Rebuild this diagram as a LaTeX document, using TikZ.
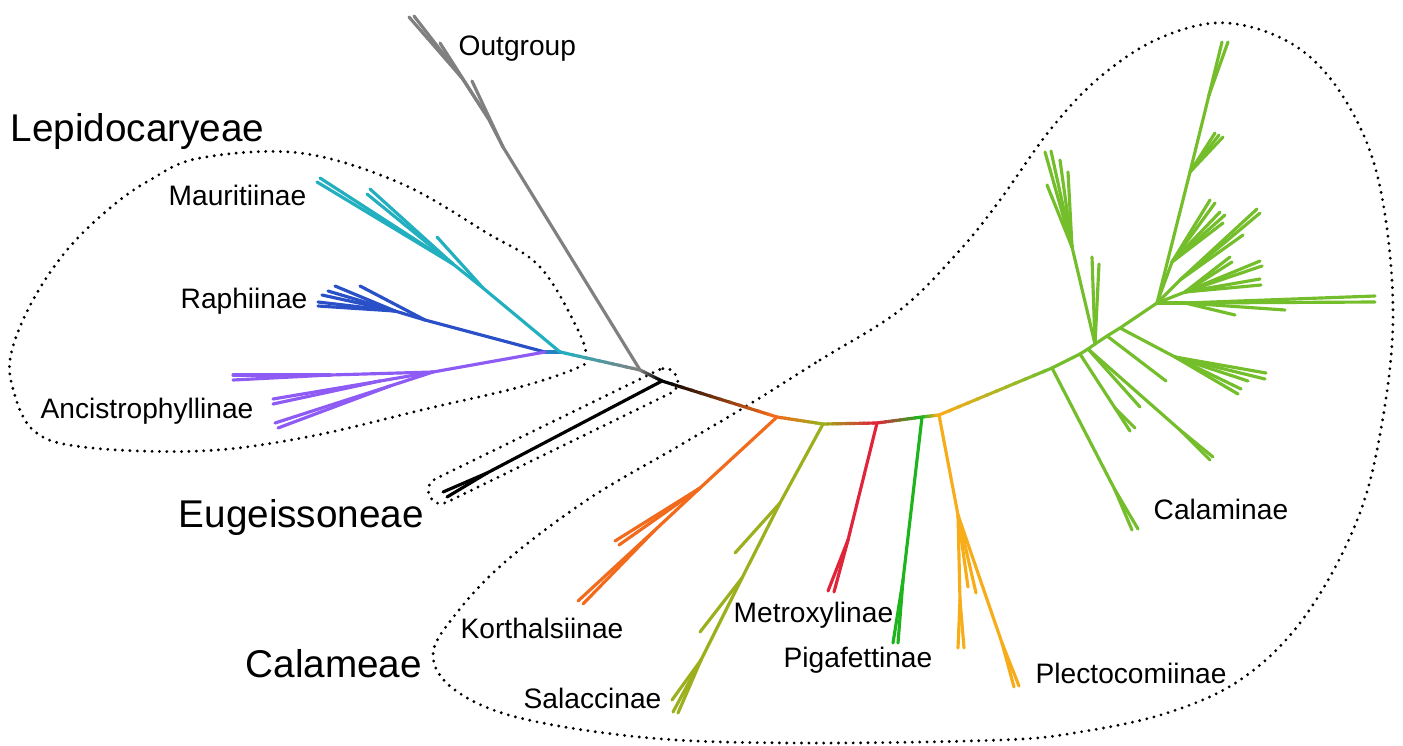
\documentclass[tikz,border=0pt]{standalone}
\usepackage{fontspec}
\setmainfont{Liberation Sans}
\usetikzlibrary{calc}

\definecolor{outgray}{HTML}{808080}
\definecolor{mauricyan}{HTML}{22AFBF}
\definecolor{raphblue}{HTML}{2A50C8}
\definecolor{ancipurple}{HTML}{8E5CF4}
\definecolor{korthorange}{HTML}{F26A1B}
\definecolor{salaolive}{HTML}{9CAF1C}
\definecolor{metrored}{HTML}{E0243A}
\definecolor{pigagreen}{HTML}{1EB41E}
\definecolor{plectoyellow}{HTML}{F7AC1A}
\definecolor{calagreen}{HTML}{74BE2B}

\tikzset{
  branch/.style={line width=0.9pt, line cap=round, line join=round},
  grouploop/.style={line width=0.9pt, dash pattern=on 0pt off 2.1pt, line cap=round},
  sublabel/.style={font=\fontsize{8}{9.6}\selectfont, inner sep=0pt, anchor=base west},
  tribelabel/.style={font=\fontsize{11}{13}\selectfont, inner sep=0pt, anchor=base west},
}

% branch whose colour runs from #3 to #4
\newcommand{\gradbranch}[4]{%
  \foreach \k in {0,...,11}{%
    \pgfmathsetmacro{\ta}{\k/12}%
    \pgfmathsetmacro{\tb}{min((\k+1)/12+0.02,1)}%
    \pgfmathtruncatemacro{\pc}{100-100*\k/11}%
    \draw[branch, color={#3!\pc!#4}] ($(#1)!\ta!(#2)$) -- ($(#1)!\tb!(#2)$);
  }}

\begin{document}
\begin{tikzpicture}[x=0.01cm, y=-0.01cm]
\useasboundingbox (0,0) rectangle (1403,745);

% group outlines
\draw[grouploop] plot[smooth cycle, tension=0.6] coordinates {
  (586,358) (578,330) (540,267) (487,233) (400,183) (300,153) (200,158)
  (150,180) (110,208) (67,250) (33,300) (12,350) (12,385) (33,430)
  (83,447) (200,451) (307,437) (430,408) (520,387) (577,368)};
\node[grouploop, draw, rectangle, rounded corners=0.12cm, minimum width=2.74cm,
  minimum height=0.26cm, rotate=26] (eugloop) at (553,436) {};
\draw[grouploop] plot[smooth cycle, tension=0.6] coordinates {
  (745,407) (820,360) (900,310) (960,250) (1000,200) (1050,130) (1100,77)
  (1160,38) (1227,23) (1297,47) (1347,103) (1380,187) (1393,320)
  (1377,450) (1350,537) (1300,623) (1240,680) (1167,713) (1080,732)
  (1000,740) (800,743) (650,738) (520,718) (455,690) (433,655)
  (455,615) (505,562) (587,500) (677,447)};

% backbone
\coordinate (root) at (640,370);
\coordinate (lepi) at (560,352);
\coordinate (lepj) at (545,352);
\coordinate (eug) at (662,381);
\coordinate (kor) at (777,417);
\coordinate (sal) at (823,424);
\coordinate (met) at (877,423);
\coordinate (pig) at (922,417);
\coordinate (ple) at (939,415);
\coordinate (cal1) at (1052,368);
\coordinate (cal2) at (1080,354);
\coordinate (cal3) at (1088,349);
\coordinate (cal4) at (1095,344);
\coordinate (cal5) at (1107,336);
\coordinate (cal6) at (1120,328);
\coordinate (cal7) at (1157,303);

\gradbranch{root}{lepi}{outgray}{mauricyan}
\draw[branch, raphblue!50!mauricyan] (lepi) -- (lepj);
\gradbranch{root}{eug}{outgray}{black}
\gradbranch{eug}{kor}{black}{korthorange}
\gradbranch{kor}{sal}{korthorange}{salaolive}
\gradbranch{sal}{met}{salaolive}{metrored}
\gradbranch{met}{pig}{metrored}{pigagreen}
\gradbranch{pig}{ple}{pigagreen}{plectoyellow}
\gradbranch{ple}{cal1}{plectoyellow}{calagreen}
\draw[branch, calagreen] (cal1) -- (cal2) -- (cal3) -- (cal4) -- (cal5) -- (cal6) -- (cal7);

% Outgroup
\coordinate (og1) at (503,147);
\coordinate (og2) at (488,118);
\coordinate (og3) at (462,78);
\coordinate (ogt1) at (472,81);
\coordinate (ogt2) at (440,43);
\coordinate (ogt3) at (409,17);
\coordinate (ogt4) at (414,16);
\draw[branch, outgray] (root) -- (og1) -- (og2) -- (og3);
\draw[branch, outgray] (og1) -- (ogt1);
\draw[branch, outgray] (og2) -- (ogt2);
\draw[branch, outgray] (og3) -- (ogt3);
\draw[branch, outgray] (og3) -- (ogt4);

% Mauritiinae
\coordinate (cy1) at (483,288);
\coordinate (cy2) at (453,264);
\coordinate (cyt0) at (437,237);
\draw[branch, mauricyan] (lepi) -- (cy1) -- (cy2);
\draw[branch, mauricyan] (cy1) -- (cyt0);
\foreach \n/\x/\y in {1/370/189, 2/367/194, 3/317/182, 4/320/178}{
  \coordinate (cyt\n) at (\x,\y);
  \draw[branch, mauricyan] (cy2) -- (cyt\n);
}

% Raphiinae
\coordinate (bl1) at (425,320);
\coordinate (bl2) at (395,311);
\coordinate (blt0) at (360,286);
\draw[branch, raphblue] (lepj) -- (bl1) -- (bl2);
\draw[branch, raphblue] (bl1) -- (blt0);
\foreach \n/\x/\y in {1/335/286, 2/328/291, 3/322/295, 4/318/302, 5/318/306}{
  \coordinate (blt\n) at (\x,\y);
  \draw[branch, raphblue] (bl2) -- (blt\n);
}

% Ancistrophyllinae
\coordinate (pu1) at (433,372);
\coordinate (pu2) at (330,375);
\coordinate (pu3) at (380,381);
\coordinate (pu4) at (390,386);
\draw[branch, ancipurple] (lepj) -- (pu1);
\draw[branch, ancipurple] (pu1) -- (pu2);
\draw[branch, ancipurple] (pu1) -- (pu3);
\draw[branch, ancipurple] (pu1) -- (pu4);
\foreach \n/\s/\x/\y in {1/pu2/233/375, 2/pu2/233/380, 3/pu3/273/399,
                         4/pu3/273/404, 5/pu4/275/423, 6/pu4/278/428}{
  \coordinate (put\n) at (\x,\y);
  \draw[branch, ancipurple] (\s) -- (put\n);
}

% Eugeissoneae
\coordinate (eu1) at (487,473);
\coordinate (eut1) at (443,492);
\coordinate (eut2) at (447,497);
\draw[branch, black] (eug) -- (eu1) -- (eut1);
\draw[branch, black] (eu1) -- (eut2);

% Korthalsiinae
\coordinate (ko1) at (700,488);
\coordinate (ko2) at (655,530);
\draw[branch, korthorange] (kor) -- (ko1) -- (ko2);
\foreach \n/\s/\x/\y in {1/ko1/615/541, 2/ko1/619/545, 3/ko2/578/601, 4/ko2/583/604}{
  \coordinate (kot\n) at (\x,\y);
  \draw[branch, korthorange] (\s) -- (kot\n);
}

% Salaccinae
\coordinate (sa1) at (780,503);
\coordinate (sa2) at (742,578);
\coordinate (sa3) at (701,660);
\draw[branch, salaolive] (sal) -- (sa1) -- (sa2) -- (sa3);
\foreach \n/\s/\x/\y in {1/sa1/735/553, 2/sa2/700/632, 3/sa3/672/700,
                         4/sa3/673/712, 5/sa3/678/713}{
  \coordinate (sat\n) at (\x,\y);
  \draw[branch, salaolive] (\s) -- (sat\n);
}

% Metroxylinae
\coordinate (me1) at (848,540);
\draw[branch, metrored] (met) -- (me1);
\foreach \n/\x/\y in {1/828/591, 2/834/592}{
  \coordinate (met\n) at (\x,\y);
  \draw[branch, metrored] (me1) -- (met\n);
}

% Pigafettinae
\coordinate (pi1) at (903,580);
\draw[branch, pigagreen] (pig) -- (pi1);
\foreach \n/\x/\y in {1/893/643, 2/898/643}{
  \coordinate (pit\n) at (\x,\y);
  \draw[branch, pigagreen] (pi1) -- (pit\n);
}

% Plectocomiinae
\coordinate (pl1) at (958,515);
\coordinate (pl2) at (960,600);
\coordinate (pl3) at (1002,643);
\draw[branch, plectoyellow] (ple) -- (pl1) -- (pl2);
\draw[branch, plectoyellow] (pl1) -- (pl3);
\foreach \n/\s/\x/\y in {1/pl2/958/648, 2/pl2/964/648, 3/pl1/968/587,
                         4/pl1/976/593, 5/pl3/1014/687, 6/pl3/1019/686}{
  \coordinate (plt\n) at (\x,\y);
  \draw[branch, plectoyellow] (\s) -- (plt\n);
}

% Calaminae
\coordinate (ca1) at (1115,490);
\coordinate (ca2) at (1115,408);
\coordinate (ca3) at (1180,430);
\coordinate (ca4) at (1072,247);
\coordinate (ca6) at (1175,357);
\coordinate (ca7a) at (1190,172);
\coordinate (ca7b) at (1209,95);
\coordinate (ca7c) at (1172,262);
\coordinate (ca7d) at (1180,280);
\coordinate (ca7e) at (1185,292);
\coordinate (ca7f) at (1185,303);
\draw[branch, calagreen] (cal1) -- (ca1);
\draw[branch, calagreen] (cal2) -- (ca2);
\draw[branch, calagreen] (cal3) -- (ca3);
\draw[branch, calagreen] (cal4) -- (ca4);
\draw[branch, calagreen] (cal6) -- (ca6);
\draw[branch, calagreen] (cal7) -- (ca7a) -- (ca7b);
\draw[branch, calagreen] (cal7) -- (ca7c);
\draw[branch, calagreen] (cal7) -- (ca7d);
\draw[branch, calagreen] (cal7) -- (ca7e);
\draw[branch, calagreen] (cal7) -- (ca7f);
\foreach \n/\s/\x/\y in {
    1/ca1/1132/530, 2/ca1/1138/529,
    3/ca2/1130/431, 4/ca2/1135/428,
    5/cal3/1140/407, 6/ca3/1213/457, 7/ca3/1210/460,
    8/cal5/1166/381,
    9/ca6/1266/373, 10/ca6/1265/379, 11/ca6/1248/381, 12/ca6/1241/389, 13/ca6/1238/394,
    14/ca4/1045/152, 15/ca4/1051/151, 16/ca4/1060/160, 17/ca4/1068/172, 18/ca4/1047/185,
    19/cal4/1092/257, 20/cal4/1099/264,
    21/ca7a/1215/133, 22/ca7a/1219/135, 23/ca7a/1223/137,
    24/ca7b/1222/42, 25/ca7b/1228/42,
    26/ca7c/1210/200, 27/ca7c/1215/203, 28/ca7c/1220/212, 29/ca7c/1225/215, 30/ca7c/1223/223,
    31/ca7d/1257/209, 32/ca7d/1260/213, 33/ca7d/1243/235,
    34/ca7e/1230/257, 35/ca7e/1232/262, 36/ca7e/1260/261, 37/ca7e/1262/266,
    38/ca7e/1260/279, 39/ca7e/1261/285,
    40/ca7f/1375/296, 41/ca7f/1375/302, 42/ca7f/1285/310, 43/ca7f/1235/315}{
  \coordinate (cat\n) at (\x,\y);
  \draw[branch, calagreen] (\s) -- (cat\n);
}

% labels
\node[sublabel] (outgroup) at (458,55) {Outgroup};
\node[tribelabel] (lepido) at (10,141) {Lepidocaryeae};
\node[sublabel] (mauri) at (168,205) {Mauritiinae};
\node[sublabel] (raphi) at (180,308) {Raphiinae};
\node[sublabel] (ancis) at (40,418) {Ancistrophyllinae};
\node[tribelabel] (eugeis) at (178,527) {Eugeissoneae};
\node[tribelabel] (calam) at (245,677) {Calameae};
\node[sublabel] (korth) at (460,638) {Korthalsiinae};
\node[sublabel] (salac) at (523,708) {Salaccinae};
\node[sublabel] (metro) at (733,622) {Metroxylinae};
\node[sublabel] (pigaf) at (783,667) {Pigafettinae};
\node[sublabel] (plect) at (1035,683) {Plectocomiinae};
\node[sublabel] (calami) at (1153,519) {Calaminae};
\end{tikzpicture}
\end{document}
